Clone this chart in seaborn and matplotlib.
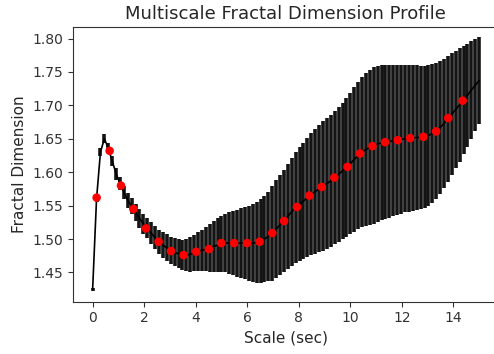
import seaborn as sns
import matplotlib
matplotlib.use("Agg")
import matplotlib.pyplot as plt
import numpy as np

# Mean fractal dimension at 100 evenly spaced scales (0 .. 15 sec)
mean_fd = [
    1.425, 1.560, 1.630, 1.650, 1.636, 1.617, 1.598, 1.583, 1.570, 1.558,
    1.549, 1.540, 1.531, 1.523, 1.516, 1.509, 1.502, 1.496, 1.491, 1.487,
    1.483, 1.480, 1.478, 1.476, 1.476, 1.477, 1.479, 1.481, 1.483, 1.485,
    1.487, 1.489, 1.491, 1.493, 1.494, 1.494, 1.494, 1.494, 1.494, 1.494,
    1.494, 1.494, 1.495, 1.497, 1.500, 1.504, 1.509, 1.515, 1.521, 1.527,
    1.534, 1.541, 1.547, 1.552, 1.557, 1.562, 1.567, 1.571, 1.575, 1.579,
    1.583, 1.587, 1.592, 1.597, 1.602, 1.607, 1.613, 1.619, 1.625, 1.630,
    1.634, 1.637, 1.640, 1.642, 1.644, 1.645, 1.646, 1.647, 1.648, 1.649,
    1.650, 1.651, 1.651, 1.652, 1.652, 1.653, 1.655, 1.658, 1.662, 1.667,
    1.673, 1.680, 1.687, 1.694, 1.701, 1.708, 1.715, 1.723, 1.730, 1.737,
]

# Spread (half-width of error bar) at each scale
err_fd = [
    0.002, 0.004, 0.006, 0.007, 0.008, 0.008, 0.009, 0.010, 0.010, 0.011,
    0.012, 0.013, 0.014, 0.015, 0.015, 0.016, 0.017, 0.018, 0.019, 0.020,
    0.020, 0.021, 0.022, 0.023, 0.024, 0.026, 0.027, 0.029, 0.031, 0.033,
    0.036, 0.038, 0.040, 0.042, 0.044, 0.046, 0.048, 0.050, 0.052, 0.054,
    0.056, 0.058, 0.061, 0.063, 0.064, 0.067, 0.071, 0.073, 0.075, 0.077,
    0.079, 0.081, 0.083, 0.085, 0.087, 0.089, 0.091, 0.093, 0.095, 0.097,
    0.098, 0.099, 0.100, 0.101, 0.102, 0.104, 0.106, 0.108, 0.110, 0.112,
    0.114, 0.116, 0.117, 0.117, 0.116, 0.115, 0.114, 0.113, 0.112, 0.111,
    0.110, 0.110, 0.109, 0.108, 0.107, 0.106, 0.105, 0.104, 0.102, 0.100,
    0.097, 0.094, 0.091, 0.088, 0.085, 0.081, 0.077, 0.073, 0.069, 0.065,
]

scales = np.linspace(0, 15, len(mean_fd))

# Sampled estimates (red markers)
sample_x = [0.155, 0.66, 1.10, 1.58, 2.07, 2.56, 3.04, 3.53, 4.02, 4.51,
            4.99, 5.49, 5.99, 6.48, 6.97, 7.43, 7.93, 8.41, 8.89, 9.38,
            9.89, 10.38, 10.86, 11.35, 11.84, 12.32, 12.83, 13.33, 13.80, 14.36]
sample_y = [1.562, 1.632, 1.580, 1.545, 1.516, 1.496, 1.482, 1.476, 1.481, 1.485,
            1.494, 1.494, 1.494, 1.496, 1.509, 1.527, 1.548, 1.565, 1.578, 1.592,
            1.608, 1.628, 1.639, 1.645, 1.648, 1.651, 1.653, 1.661, 1.681, 1.707]

sns.set_style("ticks")
plt.rcParams.update({
    "axes.linewidth": 0.8,
    "axes.edgecolor": "#333333",
    "xtick.major.size": 3.5,
    "ytick.major.size": 3.5,
    "xtick.major.width": 0.8,
    "ytick.major.width": 0.8,
    "xtick.color": "#333333",
    "ytick.color": "#333333",
    "text.color": "#262626",
    "axes.labelcolor": "#262626",
})
plt.rcParams["font.family"] = ["DejaVu Sans"]

fig = plt.figure(figsize=(4.94, 3.54), dpi=100)
ax = fig.add_axes([0.1484, 0.1477, 0.8607, 0.776])

ax.errorbar(scales, mean_fd, yerr=err_fd, fmt="none",
            ecolor="#141414", elinewidth=2.6, zorder=1)
sns.lineplot(x=scales, y=mean_fd, color="black", linewidth=1.2, ax=ax, zorder=2)
sns.scatterplot(x=sample_x, y=sample_y, color="red", s=38,
                edgecolor="none", ax=ax, zorder=3)

ax.set_xlim(-0.75, 15.75)
ax.set_ylim(1.4063, 1.8172)
ax.set_xticks(np.arange(0, 15, 2))
ax.set_yticks([1.45, 1.50, 1.55, 1.60, 1.65, 1.70, 1.75, 1.80])
ax.tick_params(labelsize=10)

ax.set_title("Multiscale Fractal Dimension Profile", fontsize=13)
ax.set_xlabel("Scale (sec)", fontsize=11)
ax.set_ylabel("Fractal Dimension", fontsize=11)

fig.savefig("out.png", dpi=100)
